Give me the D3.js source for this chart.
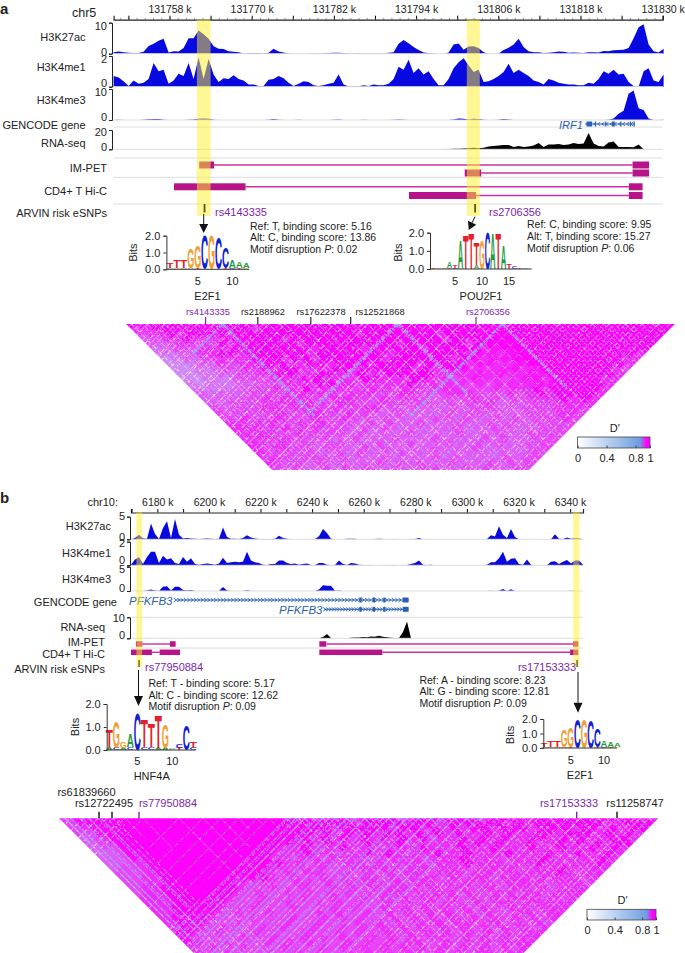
<!DOCTYPE html>
<html><head><meta charset="utf-8">
<script src="https://cdn.jsdelivr.net/npm/d3@7"></script>
<style>html,body{margin:0;padding:0;background:#fff}svg{display:block}text{font-family:"Liberation Sans",Arial,sans-serif;fill:#222}</style>
</head><body><svg id="c" width="685" height="953"></svg>
<script>
// ---------- panel a: signal tracks (one value per bin) ----------
const a_H3K27ac=[.5,.7,.5,.3,.2,.2,.6,2.5,3.2,4.2,4.8,.4,.8,.7,1.8,5,5,7.5,6.3,4.8,2.4,1.6,1.5,.8,.6,.5,.1,.2,.2,.2,.1,.3,1.6,.7,.4,.1,0,0,0,.1,.1,.1,.15,.2,.3,.3,.2,.1,.1,.15,.1,.1,.1,.1,.1,.3,
.5,3.2,4.4,3.4,2.2,1.2,.4,.2,.1,0,0,.4,3,3.3,1.3,2.3,2.4,1.8,.5,0,0,.1,1.2,1.9,3,4.8,2.2,.8,.5,.5,.2,.3,.5,.7,.6,.3,.4,.3,.2,.5,.5,.4,.9,.8,1.1,1.2,1.3,1.8,5,8.5,9.5,3,.8,.4,1.6];
const a_H3K4me1=[.7,.6,.35,.05,.4,.2,.25,.5,1.55,1,1.1,.2,.4,.85,.7,1.55,.5,1.9,.5,1.8,.8,.3,.55,.5,.75,.5,.4,.15,.15,.05,.05,.45,.5,.7,.55,.25,.05,.2,.35,.3,.1,.05,.1,.2,.25,.8,.15,.02,.03,.03,.1,.05,.15,.1,.1,.2,
.5,1.3,1.1,1.75,.9,1.2,.8,1,.5,.1,.1,.5,1.2,1.6,1.85,1.4,.95,1.1,.3,.35,.5,.7,.95,1.5,.9,1.1,.9,.7,.4,.3,.15,.5,.4,.25,.2,.15,.15,.1,.1,.25,.2,.5,1,.85,1.1,.8,.85,.3,.05,0,1,1.2,.4,.3,.8];
const a_H3K4me3=[0,.05,0,0,0,0,.05,.25,.3,.3,.1,0,0,0,0,.05,.2,.4,.5,.4,.1,0,0,0,0,0,0,0,0,0,0,.1,.3,.1,0,0,0,.1,0,0,0,0,0,0,.05,.15,0,0,0,0,.05,0,0,0,0,0,
.05,.2,.1,0,0,0,0,0,0,0,0,0,.2,.5,.4,.2,.4,.3,.05,0,0,.1,.3,.2,0,0,0,0,0,0,0,0,0,0,0,0,0,0,0,0,0,0,0,.05,.5,2,3,8.5,9.5,3.8,3.2,.5,0,0,.1];
const a_RNA=[0,0,0,0,0,0,0,0,0,0,0,0,0,0,0,0,0,0,0,0,0,0,0,0,0,0,0,0,0,0,0,0,0,0,0,0,0,0,0,0,0,0,0,0,0,0,0,0,0,0,0,0,0,0,0,0,
0,0,0,0,0,0,0,0,0,.1,.2,.3,.6,.7,.8,1,1.5,1.2,1.5,3,3.5,4,4.5,4.5,2.5,3.5,2.5,3,4,6.5,2.5,5,5,5.5,4.5,5,6.5,5.5,6,17,6,3.5,3,7,8,2.5,2.5,2.5,2,5,0,0,0,0,0];
// ---------- panel b: signal tracks ----------
const b_H3K27ac=[0,.3,1,.2,.1,3.5,1.2,.05,2.5,4,.3,4.5,1,.2,.3,.2,.1,.05,.1,.2,.1,.05,.1,2.6,.5,.1,.1,.05,.3,.9,.4,.2,.05,.05,.05,.05,.1,.8,.3,.1,.02,0,0,0,.02,.02,.05,.7,2.3,1.4,.1,0,0,.02,.1,.1,.1,.02,0,
.02,.02,.05,.1,.05,0,0,.05,0,.03,.03,.05,.05,.3,.03,0,0,0,0,0,0,0,0,0,0,0,0,0,0,0,.05,.9,.6,2.9,1,.3,2.3,.5,.02,0,0,0,0,0,0,0,0,1.1,.1,.05,.4,.1,.25,.2,0];
const b_H3K4me1=[.05,.5,.7,.1,.7,1.15,1.15,.2,.8,.5,.6,.2,.1,.7,.3,.6,.1,.05,.1,.15,.1,.05,.15,.65,.2,.25,.3,.25,.3,1.15,.4,.25,.2,.05,.02,.1,.1,.4,.4,.2,.1,.15,.05,.1,.15,.02,.02,.2,.2,.05,.02,.02,.4,.1,.02,.2,.15,.05,.02,
.02,.02,0,0,.03,.03,.03,.02,0,.02,.02,.1,.2,.4,.05,.02,.05,0,0,0,0,0,0,0,0,0,0,0,0,0,.05,.25,.25,.6,1.15,.3,.55,.6,.1,.05,.5,.05,0,0,0,0,.3,.35,.1,.3,.45,.15,.4,.4,.05];
const b_H3K4me3=[0,0,0,0,.1,.3,.1,0,.9,1,.1,.9,.9,.2,.1,.2,0,0,0,0,0,0,0,.8,.1,0,0,0,0,.15,0,0,0,0,0,0,0,0,0,0,0,0,0,0,0,0,0,.3,1.2,1.1,1.1,.05,.1,0,0,0,0,0,0,
0,0,0,0,0,0,0,0,0,0,0,0,0,0,0,0,0,0,0,0,0,0,0,0,0,0,0,0,0,0,0,.05,.02,.05,.4,.02,.35,0,0,0,0,0,0,0,0,0,0,0,0,0,0,.05,0,0];
const b_RNA=[0,0,0,0,0,0,0,0,0,0,0,0,0,0,0,0,0,0,0,0,0,0,0,0,0,0,0,0,0,0,0,0,0,0,0,0,0,0,0,0,0,0,0,0,0,0,0,0,.6,2,.2,0,0,0,0,.3,.4,.4,.6,.5,.8,.7,1.2,.7,.5,.3,.2,.2,3,8,0,0,0,0,.05,0,0,0,.05,0,0,0,0,.05,0,0,0,0,0,0,0,0,0,0,0,0,0,0,0,0,0,0,0,0,0,0,0,0,0,0,0,0,0,0];
// ---------- axes ----------
const a_tickLabels=[131758,131770,131782,131794,131806,131818,131830];
const b_tickLabels=[6180,6200,6220,6240,6260,6280,6300,6320,6340];
// ---------- genomic intervals in kb ----------
const a_yellow=[[131762.0,131764.0],[131801.4,131803.3]];
const a_impet=[[[131762.34,131764.5],[131825.6,131828]],[[131801.1,131803.5],[131825.6,131828]]];
const a_hic=[[[131758.66,131769.1],[131825.06,131827.06]],[[131792.96,131802.75],[131825.06,131827.06]]];
const a_snps=[131763.1,131802.6];
const a_geneIRF1=[131818.9,131825.9];
const a_exonsIRF1=[[131818.9,131819.7],[131820.1,131820.25],[131821.6,131821.75],[131822.6,131823.0],[131823.8,131823.95],[131825.2,131825.35],[131825.75,131825.9]];
const b_yellow=[[6171.9,6174.1],[6341.2,6343.6]];
const b_impet=[[[6171.7,6174.2],[6184.9,6187.1]],[[6242.8,6245.5],[6341.1,6343.2]]];
const b_hic=[[[6169.8,6177.9],[6180.9,6188.8]],[[6242.8,6267.2],[6340,6343.2]]];
const b_snps=[6172.9,6342.7];
const b_gene1=[6186.9,6277.4];
const b_gene2=[6244.8,6277.4];
const b_exons=[[6258.3,6259.2],[6263.5,6264.4],[6267.6,6268.4],[6275.2,6277.4]];
// ---------- motif logos: letters top-to-bottom and their bits ----------
const logoE2F1L=['TA','TG','TA','GA','GT','C','G','C','CT','AC','AT','AG'];
const logoE2F1H=[[.3,.1],[.45,.1],[.45,.08],[1.15,.05],[1.3,.05],[2],[2],[1.85],[1.2,.1],[.45,.1],[.35,.08],[.3,.06]];
const logoPOU2L=['T','G','A','AT','TC','A','T','T','TA','G','C','A','T','A','T','C','T','A'];
const logoPOU2H=[[.03],[.04],[.06],[.32,.08],[.1,.06],[1.55],[1.85],[1.95],[1.2,.2],[1.6],[2],[1.95],[1.95],[1.25],[.3],[.1],[.05],[.03]];
const logoHNFL=['TA','GC','GA','AC','C','TC','TC','TA','GA','AG','CT','C','TC'];
const logoHNFH=[[.7,.12],[1.15,.1],[.3,.1],[.55,.12],[1.6],[1.2,.12],[1,.12],[1.4,.08],[1,.08],[.07,.03],[.15,.08],[1.05,.08],[.3,.1]];
// ---------- LD triangles: estimated share of saturated D' in each diamond (0-9) ----------
const ld_rowsA=[
"8898888989889989898988989998998989889998989999998999989","778888898888789898898998988999888989999999899989989988","67787888879888988989897989989878999999999989999899998","5677877788898878889898898989887889999999999999898988","556776687888898788988889878998887899999999989988888",
"45666777888888887989879898978898878999999999998988 7","4455778878888987889888979898988788789999999998887","345567777888788788898979889897887889999999998877","33455767778877887888798987888878877899999999887","3344566778788777887888987878887778878999999876",
"334455667788778877877889887777878778889999887","33444566677788777788777887767877678878999 87","4344455666777887767777877677676777788889987","444455667678777767776776777666767787888987","55555666677777677766776667776667678788887",
"5555667677766777667676656667665667778787","556666777677677667666665656675656667777","65666776777676677565655565666556667776","6666667667766766566555565665655666776","667667766766766565555665655656566676",
"77677667676665656556555655656556666","7776776676665656555555655566555666","777766766665655556555565556556666","77767666655655565556555565655666","7767666566555655655565565655666",
"767766566556565555655565555566","76666655656555655555555555566","6766666565556555565655556566","766656565556565655655565656","66655656565565566556565566"].map(s=>s.replace(/ /g,''));
const ld_rowsB=[
"789999999999999999999999888898888878888888788888888888888 87","689999999999999999999999988887888888878888887878888888778888","6789999999999999999999998878888878878787887888788878878 7888","668999999999999999999988787878788787878778787788788 8787878","56799999999999999999988787878787878677878787788787 8778878",
"5678999999999999999987878777877867777878787787787878 7887","5668999999999999998778777877767778777877877787787787 87","5568899999999999987778776778787677877877787778778 7787","55688999999999998776776777767777677787776777877777 87","556789999999999998776776776767776777877767787777787",
"56678999999999987767676677777677677767777677787777","666789999999998767677667676767767776776777 77876777","667789999999998767667676776767776767767776777 7677","66778999998766766776767677676776767676777767776","677889999987667667667676767776767767767767 6777",
"677889999876766767676767677676776766776776777","77788999876676667667667676767767676767776767","7778899876676676676767667676767667677677 7","778899876676667666767667676767676766776777","77899876766766667676676767676767676677 67",
"7889876667666766767676676767676767676767","788876676666766766676767676767767767676","78876766676766766767676767676767676767","8876766676666766767667676767676767677","876666766766767676676767677676767677",
"87667666767676667676767766767676777","7676676667666767676767676767676767","766766676676766767676776767677677"].map(s=>s.replace(/ /g,''));
// LD breakpoints along the top edge (percent of the edge) with arm reach in the figure
const ld_strongPosA=[17.6,49.5,68.5], ld_strongLeftA=[30,90,92], ld_strongRightA=[92,70,65];
const ld_thinPosA=[3,6,9,12,15,20,23,26,29,32,35,38,41,44,47,52,55,58,61,64,66,71,74,77,80,83,86,89,92,95];
const ld_thinLeftA=[10,20,30,40,50,60,70,80,90,100,110,130,146,146,146,146,146,146,120,100,90,70,80,80,90,90,100,110,120,130];
const ld_thinRightA=[146,146,146,146,146,146,146,146,146,110,90,90,90,90,90,90,90,80,70,60,60,60,60,60,60,60,60,60,60,60];
const ld_hatchPosA=[1,2.5,4,5,7,8,10,11.5,13,14,16,17,19,20.5,22,23.5,25,26,28,29,31,32,34,35.5,37,38,40,41.5,43,44,46,47,49,50,52,53,55,56,58,59,61,62,64,65,67,69,70,72,73,75,76,78,79,81,82,84,85,87,88,90,91,93,94,96,97,99];
const ld_cleanA=[[[503,329],[436,396],[560,386]]];
const ld_strongPosB=[1,2,3.5,5,7,38,39.5,41,43,44,46,48,49,51,53,55,57,58,60,62,64,66,68,70];
const ld_strongLeftB=[0,0,0,0,0,135,135,135,135,135,135,135,135,135,135,135,135,135,135,135,135,135,135,135];
const ld_strongRightB=[110,120,100,110,90,6,6,6,6,6,6,6,6,6,6,6,6,6,6,6,6,6,6,6];
const ld_thinPosB=[11,14,20,24,27,30,33,35,74,77,79,82,85,87,90,92,95,97];
const ld_thinLeftB=[10,20,30,45,70,90,80,60,120,135,100,135,110,135,135,120,135,135];
const ld_thinRightB=[20,30,60,70,30,10,6,10,135,100,135,110,135,90,70,60,40,20];
const ld_hatchPosB=[1,2,4,5,6.5,8,9,10.5,12,13,37,38.5,40,41,42.5,44,45,47,48,49.5,51,52,54,55,56.5,58,59,61,62,63.5,65,66,68,69,70.5,72,73,75,76,77.5,79,80,82,83,84.5,86,87,89,90,91.5,93,94,96,97,98.5];
const ld_cleanB=[[[118,818],[284,818],[190,912],[215,915]]];
const ld_dashes=['2 1 3 2','1 2 4 1','3 3 1 1','2 2 1 3','4 1 1 2','1 1 2 3'];
const legendTicks=[0,.4,.8,1];

const BLUE='#0808e0',MAG='#b8148a',LINK='#cc30a0',PUR='#7d26ad',GENE='#2a62b0';
const LETTER={A:'#1f9a3c',C:'#1020d0',G:'#f0a030',T:'#e4202c'};
const svg=d3.select('#c');
const defs=svg.append('defs');
function T(x,y,s,o={}){const t=svg.append('text').attr('x',x).attr('y',y).attr('font-size',o.size||10.5)
 .attr('text-anchor',o.a||'start').attr('dominant-baseline','central').text(s);
 if(o.color)t.style('fill',o.color); if(o.bold)t.attr('font-weight','bold'); if(o.it)t.attr('font-style','italic');
 if(o.rot)t.attr('transform',`rotate(-90 ${x} ${y})`); return t;}
function track(x,start,step,vals,max,base,top,color){
 const y=d3.scaleLinear().domain([0,max]).range([base,top]);
 const ar=d3.area().x((d,i)=>x(start+i*step)).y0(base).y1(d=>y(Math.min(d,max)));
 svg.append('path').datum(vals).attr('d',ar).attr('fill',color);
 return y;}
function yaxis(y,xpos,max,upShift,downShift,fs){
 const ax=d3.axisLeft(y).tickValues([0,max]).tickSize(3).tickPadding(2).tickFormat(d3.format('d'));
 const g=svg.append('g').attr('transform',`translate(${xpos},0)`).call(ax);
 g.select('.domain').attr('stroke','#222').attr('stroke-width',1);
 g.selectAll('text').attr('font-size',fs||11).attr('dy',d=>d===0?(0.32*11-upShift):(0.32*11+downShift)).style('fill','#222');
 g.selectAll('line').attr('stroke','#222');}
function sep(ys,x0,x1){ys.forEach(y=>svg.append('line').attr('x1',x0).attr('x2',x1).attr('y1',y).attr('y2',y).attr('stroke','#dcdcdc').attr('stroke-width',1));}
function pair(x,rows,ys,h){rows.forEach((r,i)=>{
 svg.append('line').attr('x1',x(r[0][1])).attr('x2',x(r[1][0])).attr('y1',ys[i]).attr('y2',ys[i]).attr('stroke',LINK).attr('stroke-width',1.4);
 r.forEach(b=>svg.append('rect').attr('x',x(b[0])).attr('width',x(b[1])-x(b[0])).attr('y',ys[i]-h/2).attr('height',h).attr('fill',MAG));});}
function gene(x,range,exons,y,dir,stepKb){
 svg.append('line').attr('x1',x(range[0])).attr('x2',x(range[1])).attr('y1',y).attr('y2',y).attr('stroke',GENE).attr('stroke-width',1);
 d3.range(range[0],range[1],stepKb).forEach(k=>{const px=x(k);
  svg.append('path').attr('d',`M${px-dir*1.3},${y-1.8}L${px+dir*1.3},${y}L${px-dir*1.3},${y+1.8}`).attr('fill','none').attr('stroke',GENE).attr('stroke-width',.9);});
 exons.forEach(e=>svg.append('rect').attr('x',x(e[0])).attr('width',Math.max(1.2,x(e[1])-x(e[0]))).attr('y',y-2.5).attr('height',5).attr('fill',GENE));}
function arrow(x1,y1,x2,y2,hw,hl){
 const a=Math.atan2(y2-y1,x2-x1),bx=x2-hl*Math.cos(a),by=y2-hl*Math.sin(a),nx=-Math.sin(a)*hw,ny=Math.cos(a)*hw;
 svg.append('line').attr('x1',x1).attr('y1',y1).attr('x2',bx).attr('y2',by).attr('stroke','#111').attr('stroke-width',1);
 svg.append('path').attr('d',`M${x2},${y2}L${bx+nx},${by+ny}L${bx-nx},${by-ny}Z`).attr('fill','#111');}
function logo(o){
 const xp=d3.scaleLinear().domain([o.p5,o.p10]).range([o.x5,o.x10]);
 const y=d3.scaleLinear().domain([0,2]).range([o.base,o.top]);
 const pw=Math.abs(o.x10-o.x5)/Math.abs(o.p10-o.p5);
 o.letters.forEach((ls,i)=>{let b=0; const hs=o.heights[i]; const order=ls.split('').map((c,j)=>[c,hs[j]||0]).reverse();
  order.forEach(([c,h])=>{ if(h<=0)return;
   const t=svg.append('text').attr('font-size',40).attr('font-weight','bold').attr('text-anchor','middle').style('fill',LETTER[c]).text(c);
   const w=t.node().getComputedTextLength();
   const sx=pw*1.02/w,sy=(y(b)-y(b+h))/(40*.70);
   t.attr('transform',`translate(${xp(i+1)},${y(b)}) scale(${sx},${sy})`);
   b+=h;});});
 const ay=d3.axisLeft(y).tickValues([0,1,2]).tickSize(3).tickPadding(3).tickFormat(d3.format('.1f'));
 const g=svg.append('g').attr('transform',`translate(${o.axisX},0)`).call(ay);
 g.selectAll('text').attr('font-size',11).style('fill','#222');g.select('.domain').attr('stroke','#333');g.selectAll('line').attr('stroke','#333');
 svg.append('line').attr('x1',o.axisX).attr('x2',o.endX).attr('y1',o.base).attr('y2',o.base).attr('stroke','#333');
 o.xt.forEach(v=>T(xp(v),o.tickY,v,{size:11,a:'middle'}));
 T(o.bitsX,o.bitsY,'Bits',{size:11,a:'middle',rot:1});
 T(o.nameX,o.nameY,o.name,{size:11,a:'middle'});}
function ld(o,id){
 const n=o.n;
 const xL=d3.scaleLinear().domain([0,n]).range([o.x0,o.x1]);
 const step=(o.x1-o.x0)/n;
 const yL=d3.scaleLinear().domain([0,1]).range([o.top,o.top+step/2]);
 const botY=o.bottom, inset=(botY-o.top);
 const trap=`M${o.x0},${o.top}L${o.x1},${o.top}L${o.x1-inset},${botY}L${o.x0+inset},${botY}Z`;
 defs.append('clipPath').attr('id',id).append('path').attr('d',trap);
 const holes=o.clean.map(p=>'M'+p.map(q=>q.join(',')).join('L')+'Z').join('');
 const frame=`M0,${o.top-5}L685,${o.top-5}L685,${botY+5}L0,${botY+5}Z`;
 defs.append('clipPath').attr('id',id+'h').append('path').attr('d',frame+holes).attr('clip-rule','evenodd');
 const g=svg.append('g').attr('clip-path',`url(#${id})`);
 const shade=d3.scaleLinear().domain([0,9]).range(['#bcc8f0','#ff00ff']);
 o.rows.forEach((row,r)=>{const len=n-r;
  d3.range(len).forEach(c=>{const ch=row[Math.min(c,row.length-1)];
  const cx=xL(c+r/2+.5),cy=yL(r),hw=step/2+.25;
  g.append('path').attr('d',`M${cx-hw},${cy}L${cx},${cy-hw}L${cx+hw},${cy}L${cx},${cy+hw}Z`).attr('fill',shade(+ch));});});
 const xPct=d3.scaleLinear().domain([0,100]).range([o.x0,o.x1]);
 const gh=g.append('g').attr('clip-path',`url(#${id}h)`);
 const h=botY-o.top;
 o.hatch.forEach((p,i)=>{const x=xPct(p);
  [[-h,h,'#ffffff'],[h,h,'#a8bdf2']].forEach(([dx,dy,col],k)=>{
   gh.append('line').attr('x1',x).attr('y1',o.top).attr('x2',x+dx).attr('y2',o.top+dy)
    .attr('stroke',(i+k)%3==0?'#a8bdf2':(i+k)%3==1?'#ffffff':col).attr('stroke-width',1.1).attr('opacity',.66)
    .attr('stroke-dasharray',ld_dashes[(i+k*2)%ld_dashes.length]);});});
 const seg=(pos,L,R,col,w,op,dash)=>pos.forEach((p,i)=>{const x=xPct(p);
  [[-L[i],L[i]],[R[i],R[i]]].forEach(([dx,dy])=>{if(!dy)return;
   g.append('line').attr('x1',x).attr('y1',o.top).attr('x2',x+dx).attr('y2',o.top+dy).attr('stroke',col).attr('stroke-width',w).attr('opacity',op).attr('stroke-dasharray',dash);});});
 seg(o.thinPos,o.thinL,o.thinR,'#ffffff',1,.6,ld_dashes[1]);
 seg(o.strongPos,o.strongL,o.strongR,o.strongCol,o.strongW,o.strongOp,'5 1 2 1');}
function legend(o,id){
 const grad=defs.append('linearGradient').attr('id',id);
 [[0,'#ffffff'],[.86,'#6f9ee0'],[.95,'#ff00ff'],[1,'#ff00ff']].forEach(s=>grad.append('stop').attr('offset',s[0]).attr('stop-color',s[1]));
 const x=d3.scaleLinear().domain([0,1]).range([o.x0,o.x1]);
 svg.append('rect').attr('x',o.x0).attr('y',o.y0).attr('width',o.x1-o.x0).attr('height',o.y1-o.y0).attr('fill',`url(#${id})`).attr('stroke','#444').attr('stroke-width',.8);
 const g=svg.append('g').attr('transform',`translate(0,${o.y1})`).call(d3.axisBottom(x).tickValues(legendTicks).tickSize(-2.5).tickPadding(6).tickFormat(d=>d));
 g.select('.domain').remove();g.selectAll('line').attr('stroke','#444');g.selectAll('text').attr('font-size',11).style('fill','#222');
 T((o.x0+o.x1)/2+1,o.y0-9,'D′',{size:11,a:'middle'});}
function info(x,ys,lines,pv){
 T(x,ys[0],lines[0]);T(x,ys[1],lines[1]);
 const t=T(x,ys[2],'Motif disruption ');t.append('tspan').attr('font-style','italic').text('P');t.append('tspan').text(': '+pv);}

// ================= PANEL A =================
const xA=d3.scaleLinear().domain([131749.84,131830]).range([113.6,662.7]);
const stepA=5/6.85, startA=131749.84;
T(0,8,'a',{size:15,bold:1});
T(72,13,'chr5',{size:12.5});
const axA=d3.axisTop(xA).tickValues(d3.range(131752,131831,6)).tickSize(4).tickPadding(3).tickFormat(d=>a_tickLabels.includes(d)?d+' k':'');
const gA=svg.append('g').attr('transform','translate(0,19.7)').call(axA);
gA.selectAll('text').attr('font-size',10.5).style('fill','#222');gA.select('.domain').attr('stroke','#222').attr('stroke-width',1.2);
const axAm=d3.axisTop(xA).tickValues(d3.range(131750.8,131830,1.2)).tickSize(1.8).tickFormat('');
const gAm=svg.append('g').attr('transform','translate(0,19.7)').call(axAm);gAm.select('.domain').remove();gAm.selectAll('line').attr('stroke','#444').attr('stroke-width',.6);
[['H3K27ac',37],['H3K4me1',66.7],['H3K4me3',100],['GENCODE gene',125],['RNA-seq',142.7]].forEach(d=>T(85.6,d[1],d[0],{size:11,a:'end'}));
[['IM-PET',168],['CD4+ T Hi-C',191],['ARVIN risk eSNPs',212.7]].forEach(d=>T(107,d[1],d[0],{size:11,a:'end'}));
yaxis(track(xA,startA,stepA,a_H3K27ac,10,53.7,22.7,BLUE),112,10,2,3);
yaxis(track(xA,startA,stepA,a_H3K4me1,2,86.7,56,BLUE),112,2,4,3);
yaxis(track(xA,startA,stepA,a_H3K4me3,10,120,89,BLUE),112,10,3,3);
yaxis(track(xA,startA,stepA,a_RNA,20,149.3,130,'#000'),112,20,2.5,2);
sep([53.7,86.7,120,127,149.3,158,177.3,204],113.6,662.7);
T(559,124.5,'IRF1',{size:11,it:1,color:GENE});
gene(xA,a_geneIRF1,a_exonsIRF1,124,-1,.6);
pair(xA,a_impet,[165,173],7);
pair(xA,a_hic,[186.8,195.5],7);
a_yellow.forEach(b=>svg.append('rect').attr('x',xA(b[0])).attr('width',xA(b[1])-xA(b[0])).attr('y',19.7).attr('height',196.3).attr('fill','rgb(255,240,40)').attr('opacity',.5));
a_snps.forEach(k=>svg.append('rect').attr('x',xA(k)-.8).attr('width',1.8).attr('y',204).attr('height',8.5).attr('fill','#5a5a10'));
T(215,212,'rs4143335',{size:11,color:PUR});T(489,212,'rs2706356',{size:11,color:PUR});
arrow(203.7,214,203.7,233,4.5,9);
arrow(475,216.7,468.7,230,4.5,8);
info(250,[225.7,237,248.5],['Ref: T, binding score: 5.16','Alt: C, binding score: 13.86'],'0.02');
info(527,[224.3,236,247.5],['Ref: C, binding score: 9.95','Alt:  T, binding score: 15.27'],'0.06');
logo({letters:logoE2F1L,heights:logoE2F1H,p5:5,p10:10,x5:197.7,x10:232.4,base:269.3,top:235.7,axisX:166.4,endX:249,tickY:280.5,xt:[5,10],bitsX:133,bitsY:252.7,nameX:207.5,nameY:296,name:'E2F1'});
logo({letters:logoPOU2L,heights:logoPOU2H,p5:5,p10:10,x5:455,x10:482,base:269,top:232.7,axisX:430,endX:531.7,tickY:280.5,xt:[5,10,15],bitsX:398,bitsY:252.7,nameX:481,nameY:296,name:'POU2F1'});
[[208,'rs4143335',PUR,205.6],[263,'rs2188962','#222',257.8],[321,'rs17622378','#222',310.8],[380,'rs12521868','#222',350.7],[488,'rs2706356',PUR,476]].forEach(d=>{
 T(d[0],311.7,d[1],{size:9.3,a:'middle',color:d[2]});
 svg.append('line').attr('x1',d[3]).attr('x2',d[3]).attr('y1',317).attr('y2',324).attr('stroke',d[2]).attr('stroke-width',1.2);});
ld({rows:ld_rowsA,n:55,x0:126,x1:675,top:324,bottom:470,hatch:ld_hatchPosA,clean:ld_cleanA,thinPos:ld_thinPosA,thinL:ld_thinLeftA,thinR:ld_thinRightA,strongPos:ld_strongPosA,strongL:ld_strongLeftA,strongR:ld_strongRightA,strongCol:'#9ab8ea',strongW:2.4,strongOp:.8},'clipA');
legend({x0:577.6,x1:650,y0:437,y1:448},'gradA');

// ================= PANEL B =================
const xB=d3.scaleLinear().domain([6169.8,6345]).range([131,583]);
const stepB=4/2.58,startB=6169.8;
T(0,497,'b',{size:15,bold:1});
T(87.4,502.3,'chr10:',{size:11});
const axB=d3.axisTop(xB).tickValues(d3.range(6170,6345,10)).tickSize(3.5).tickPadding(3).tickFormat(d=>b_tickLabels.includes(d)?d+' k':'');
const gB=svg.append('g').attr('transform','translate(0,512.5)').call(axB);
gB.selectAll('text').attr('font-size',10.5).style('fill','#222');gB.select('.domain').attr('stroke','#222').attr('stroke-width',1.2);
[['H3K27ac',525.7],['H3K4me1',552.7],['H3K4me3',579]].forEach(d=>T(111,d[1],d[0],{size:11,a:'end'}));
T(117,601.7,'GENCODE gene',{size:11,a:'end'});
[['RNA-seq',626.7],['IM-PET',642],['CD4+ T Hi-C',654],['ARVIN risk eSNPs',669.3]].forEach(d=>T(105,d[1],d[0],{size:11,a:'end'}));
yaxis(track(xB,startB,stepB,b_H3K27ac,5,539.3,516.7,BLUE),130,5,2,-1);
yaxis(track(xB,startB,stepB,b_H3K4me1,2,565.3,541.7,BLUE),130,2,5,1);
yaxis(track(xB,startB,stepB,b_H3K4me3,5,591,566.7,BLUE),130,5,3,2);
yaxis(track(xB,startB,stepB,b_RNA,10,638.3,617.3,'#000'),130,10,3,0.5);
sep([539.3,565.3,591,617.3,638.3,648],131,583);
T(129,600.5,'PFKFB3',{size:11.5,it:1,color:GENE});
T(279,610,'PFKFB3',{size:11.5,it:1,color:GENE});
gene(xB,b_gene1,b_exons,600,1,1.3);
gene(xB,b_gene2,b_exons,609.3,1,1.1);
pair(xB,[b_impet[0]],[644],5.5);pair(xB,[b_impet[1]],[644],5.5);
pair(xB,[b_hic[0]],[652.3],5.5);pair(xB,[b_hic[1]],[652.3],5.5);
b_yellow.forEach(b=>svg.append('rect').attr('x',xB(b[0])).attr('width',xB(b[1])-xB(b[0])).attr('y',512.5).attr('height',154.5).attr('fill','rgb(255,240,40)').attr('opacity',.5));
b_snps.forEach(k=>svg.append('rect').attr('x',xB(k)-.6).attr('width',1.3).attr('y',660).attr('height',7).attr('fill','#5a5a10'));
T(145,667,'rs77950884',{size:11,color:PUR});T(576,667,'rs17153333',{size:11,a:'end',color:PUR});
arrow(138.5,670,138.5,706,4.5,10);
arrow(578,672,578,712.7,4.5,10);
info(148.5,[682.7,694.7,706],['Ref: T - binding score: 5.17','Alt: C - binding score: 12.62'],'0.09');
info(419.4,[680,691.3,702.7],['Ref: A - binding score: 8.23','Alt: G - binding score: 12.81'],'0.09');
logo({letters:logoHNFL,heights:logoHNFH,p5:5,p10:10,x5:137.3,x10:172.3,base:750,top:704,axisX:106.7,endX:195.7,tickY:761,xt:[5,10],bitsX:75,bitsY:727,nameX:151.7,nameY:776,name:'HNF4A'});
logo({letters:logoE2F1L,heights:logoE2F1H,p5:5,p10:10,x5:570.7,x10:604,base:748,top:719,axisX:543.3,endX:617,tickY:760,xt:[5,10],bitsX:510,bitsY:735,nameX:580,nameY:775,name:'E2F1'});
[[86.5,792,'rs61839660','#222'],[104,803,'rs12722495','#222'],[168,803,'rs77950884',PUR],[569,803,'rs17153333',PUR],[635,803,'rs11258747','#222']].forEach(d=>T(d[0],d[1],d[2],{size:11,a:'middle',color:d[3]}));
[[99,'#111'],[112,'#111'],[139,PUR],[576.7,PUR],[617,'#111']].forEach(d=>svg.append('line').attr('x1',d[0]).attr('x2',d[0]).attr('y1',811.7).attr('y2',818.3).attr('stroke',d[1]).attr('stroke-width',1.4));
ld({rows:ld_rowsB,n:60,x0:59,x1:658.4,top:818.3,bottom:953,hatch:ld_hatchPosB,clean:ld_cleanB,thinPos:ld_thinPosB,thinL:ld_thinLeftB,thinR:ld_thinRightB,strongPos:ld_strongPosB,strongL:ld_strongLeftB,strongR:ld_strongRightB,strongCol:'#a8a2ee',strongW:1.6,strongOp:.75},'clipB');
legend({x0:587,x1:656,y0:909.3,y1:920},'gradB');
</script></body></html>
